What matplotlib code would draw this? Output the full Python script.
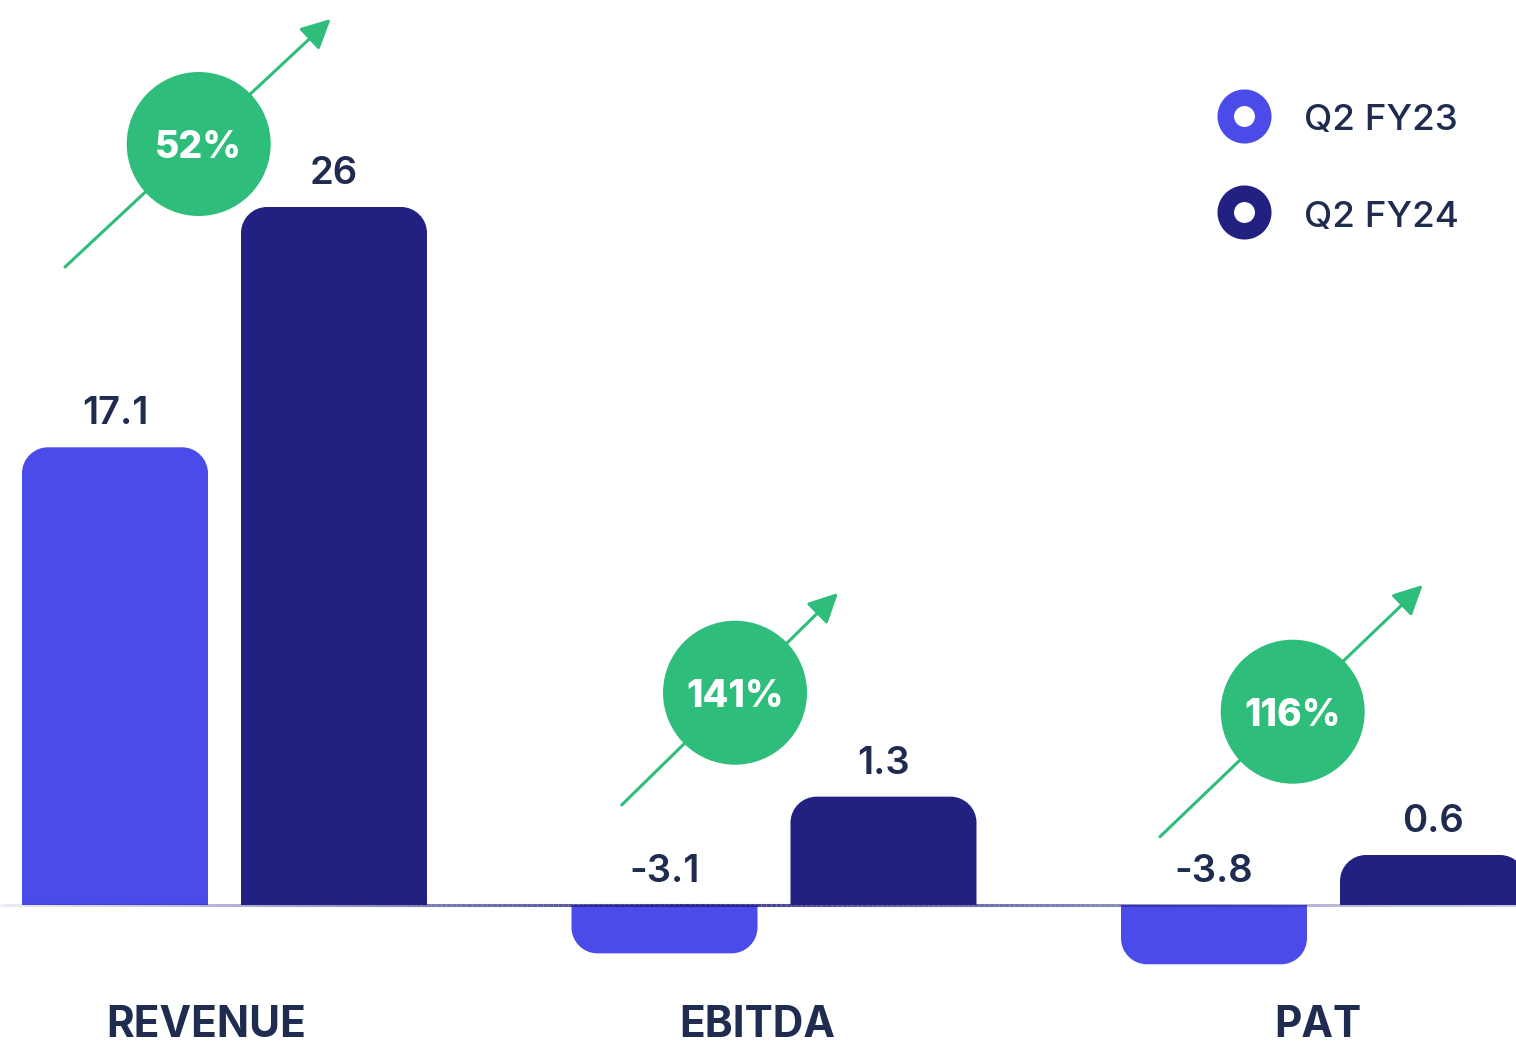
import numpy as np
import matplotlib.pyplot as plt
from matplotlib.path import Path
from matplotlib.patches import PathPatch, Ellipse
from matplotlib.collections import LineCollection

plt.rcParams['font.family'] = ['Inter', 'DejaVu Sans']

categories = ["REVENUE", "EBITDA", "PAT"]
q2_fy23 = [17.1, -3.1, -3.8]
q2_fy24 = [26, 1.3, 0.6]
growth = ["52%", "141%", "116%"]
series_names = ["Q2 FY23", "Q2 FY24"]

FY23_COLOR = "#4a4be8"
FY24_COLOR = "#222182"
GREEN = "#2ebd7b"
TEXT = "#1f2b4f"

W, H = 1516, 1045
BASE_PX = 905        # baseline, pixels from top
GROUP_PX = 549.5     # distance between groups
FIRST_PX = 224.5     # centre of first group

# small values get stretched so the short bars stay readable
knots_val = [-100, 0, 1.5, 17, 100]
knots_px = [-1560, 0, 125, 455, 455 + 83 * 27]


def fwd(y):
    return np.interp(y, knots_val, knots_px)


def inv(p):
    return np.interp(p, knots_px, knots_val)


def to_frac(px, py):
    return px / W, 1 - py / H


def rounded_bar(ax, rect, color, r=26):
    # redraw a bar with rounded corners at its free end
    x0, w, h = rect.get_x(), rect.get_width(), rect.get_height()
    (px0, py0), (px1, py1) = ax.transData.transform([(x0, 0), (x0 + w, h)])
    s = 1 if py1 > py0 else -1
    k = 0.5523
    verts = [(px0, py0), (px1, py0), (px1, py1 - s * r),
             (px1, py1 - s * r * (1 - k)), (px1 - r * (1 - k), py1), (px1 - r, py1),
             (px0 + r, py1),
             (px0 + r * (1 - k), py1), (px0, py1 - s * r * (1 - k)), (px0, py1 - s * r),
             (px0, py0)]
    codes = [Path.MOVETO, Path.LINETO, Path.LINETO,
             Path.CURVE4, Path.CURVE4, Path.CURVE4,
             Path.LINETO,
             Path.CURVE4, Path.CURVE4, Path.CURVE4,
             Path.CLOSEPOLY]
    verts = ax.transAxes.inverted().transform(verts)
    ax.add_patch(PathPatch(Path(verts, codes), transform=ax.transAxes,
                           facecolor=color, edgecolor='none', zorder=2))


def main():
    fig = plt.figure(figsize=(W / 100, H / 100), dpi=100)
    ax = fig.add_axes([0, 0, 1, 1])
    ax.set_yscale('function', functions=(fwd, inv))
    ax.set_xlim(-FIRST_PX / GROUP_PX, (W - FIRST_PX) / GROUP_PX)
    ax.set_ylim(inv(BASE_PX - H), inv(BASE_PX))
    ax.axis('off')

    x = np.arange(len(categories))
    width = 186 / GROUP_PX
    off = 109.5 / GROUP_PX
    bars23 = ax.bar(x - off, q2_fy23, width, color=FY23_COLOR)
    bars24 = ax.bar(x + off, q2_fy24, width, color=FY24_COLOR)

    for bars, vals, color, sx in [(bars23, q2_fy23, FY23_COLOR, -off),
                                  (bars24, q2_fy24, FY24_COLOR, off)]:
        for rect, v, xi in zip(bars, vals, x):
            rect.set_visible(False)
            rounded_bar(ax, rect, color)
            ax.annotate(f"{v:g}", xy=(xi + sx, max(v, 0)), xytext=(0, 23 * 0.72),
                        textcoords='offset points', ha='center', va='baseline',
                        fontsize=27.5, fontweight='semibold', color=TEXT)

    # category names sit a little left of each group centre
    label_shift_px = [-18, -16.5, -5.5]
    for xi, cat, dx in zip(x, categories, label_shift_px):
        ax.annotate(cat, xy=(xi + dx / GROUP_PX, 0), xytext=(0, -132 * 0.72),
                    textcoords='offset points', ha='center', va='baseline',
                    fontsize=30.5, fontweight='bold', color=TEXT)

    # baseline with a soft gradient
    xs = np.linspace(*ax.get_xlim(), 300)
    segs = [[(xs[i], 0), (xs[i + 1], 0)] for i in range(len(xs) - 1)]
    t = np.linspace(0, 1, len(segs))
    alpha = np.interp(t, [0, 0.15, 0.45, 0.65, 0.87, 1.0],
                      [0.08, 0.35, 0.9, 0.65, 0.33, 0.25])
    cols = [(34 / 255, 33 / 255, 130 / 255, a) for a in alpha]
    ax.add_collection(LineCollection(segs, colors=cols, linewidths=2.2, zorder=3))

    # growth badges
    badge_centres = [(198.7, 144), (735, 692.7), (1292.7, 711.7)]
    arrow_tails = [(65, 267), (621.7, 805), (1160, 836.7)]
    arrow_tips = [(330.7, 19), (838, 593), (1422.7, 585)]
    for label, c, a, b in zip(growth, badge_centres, arrow_tails, arrow_tips):
        ax.annotate('', xy=to_frac(*b), xytext=to_frac(*a), xycoords='axes fraction',
                    textcoords='axes fraction',
                    arrowprops=dict(arrowstyle='-|>,head_length=0.9,head_width=0.45',
                                    mutation_scale=20, lw=2.2, color=GREEN,
                                    shrinkA=0, shrinkB=0), zorder=4)
        ax.add_patch(Ellipse(to_frac(*c), 144 / W, 144 / H, transform=ax.transAxes,
                             facecolor=GREEN, edgecolor='none', zorder=5))
        ax.text(*to_frac(c[0], c[1] + 14.5), label, transform=ax.transAxes,
                ha='center', va='baseline', fontsize=27, fontweight='heavy',
                color='white', zorder=6)

    # legend
    for name, color, cy, base in [(series_names[0], FY23_COLOR, 115.7, 130),
                                  (series_names[1], FY24_COLOR, 211.7, 226.7)]:
        ax.plot(*to_frac(1243.7, cy), marker='o', ms=27, mew=11.9, mfc='white',
                mec=color, transform=ax.transAxes, zorder=5)
        ax.text(*to_frac(1304, base), name, transform=ax.transAxes, ha='left',
                va='baseline', fontsize=26.5, fontweight='medium', color=TEXT)

    fig.savefig("out.png", dpi=100, facecolor='white')


if __name__ == "__main__":
    main()
